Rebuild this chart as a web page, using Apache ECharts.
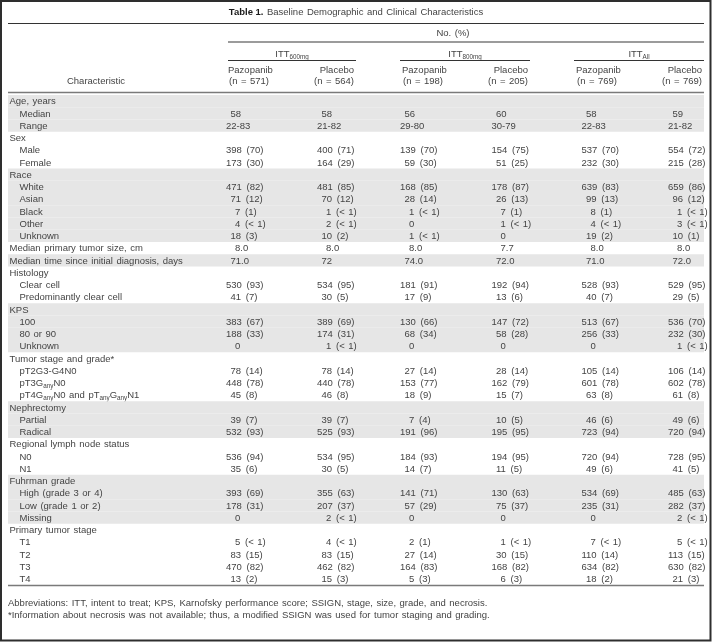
<!DOCTYPE html>
<html>
<head>
<meta charset="utf-8">
<script src="https://cdn.jsdelivr.net/npm/echarts/dist/echarts.min.js"></script>
<style>html,body{margin:0;padding:0;background:#fff}#chart{width:712px;height:642px}</style>
</head>
<body>
<div id="chart"></div>
<script>
// ---------------- data ----------------
const titleBold = 'Table 1.';
const titleText = 'Baseline Demographic and Clinical Characteristics';
const spanHeader = 'No. (%)';
const stubHeader = 'Characteristic';
const groupNames = ['ITT{s|600mg}', 'ITT{s|800mg}', 'ITT{s|All}'];
const armNames = ['Pazopanib', 'Placebo', 'Pazopanib', 'Placebo', 'Pazopanib', 'Placebo'];
const armN = ['(n = 571)', '(n = 564)', '(n = 198)', '(n = 205)', '(n = 769)', '(n = 769)'];
const columnKeys = ['Characteristic', 'gap', 'ITT600 Pazopanib', 'ITT600 Placebo', 'ITT800 Pazopanib', 'ITT800 Placebo', 'ITTAll Pazopanib', 'ITTAll Placebo'];

const characteristics = [
  'Age, years', 'Median', 'Range',
  'Sex', 'Male', 'Female',
  'Race', 'White', 'Asian', 'Black', 'Other', 'Unknown',
  'Median primary tumor size, cm',
  'Median time since initial diagnosis, days',
  'Histology', 'Clear cell', 'Predominantly clear cell',
  'KPS', '100', '80 or 90', 'Unknown',
  'Tumor stage and grade*', 'pT2G3-G4N0', 'pT3G{s|any}N0', 'pT4G{s|any}N0 and pT{s|any}G{s|any}N1',
  'Nephrectomy', 'Partial', 'Radical',
  'Regional lymph node status', 'N0', 'N1',
  'Fuhrman grade', 'High (grade 3 or 4)', 'Low (grade 1 or 2)', 'Missing',
  'Primary tumor stage', 'T1', 'T2', 'T3', 'T4'
];
const indentLevel = [
  0, 1, 1,
  0, 1, 1,
  0, 1, 1, 1, 1, 1,
  0,
  0,
  0, 1, 1,
  0, 1, 1, 1,
  0, 1, 1, 1,
  0, 1, 1,
  0, 1, 1,
  0, 1, 1, 1,
  0, 1, 1, 1, 1
];
const itt600Pazopanib = ['', '58', '22-83', '', '398 (70)', '173 (30)', '', '471 (82)', '71 (12)', '7 (1)', '4 (< 1)', '18 (3)', '8.0', '71.0', '', '530 (93)', '41 (7)', '', '383 (67)', '188 (33)', '0', '', '78 (14)', '448 (78)', '45 (8)', '', '39 (7)', '532 (93)', '', '536 (94)', '35 (6)', '', '393 (69)', '178 (31)', '0', '', '5 (< 1)', '83 (15)', '470 (82)', '13 (2)'];
const itt600Placebo   = ['', '58', '21-82', '', '400 (71)', '164 (29)', '', '481 (85)', '70 (12)', '1 (< 1)', '2 (< 1)', '10 (2)', '8.0', '72', '', '534 (95)', '30 (5)', '', '389 (69)', '174 (31)', '1 (< 1)', '', '78 (14)', '440 (78)', '46 (8)', '', '39 (7)', '525 (93)', '', '534 (95)', '30 (5)', '', '355 (63)', '207 (37)', '2 (< 1)', '', '4 (< 1)', '83 (15)', '462 (82)', '15 (3)'];
const itt800Pazopanib = ['', '56', '29-80', '', '139 (70)', '59 (30)', '', '168 (85)', '28 (14)', '1 (< 1)', '0', '1 (< 1)', '8.0', '74.0', '', '181 (91)', '17 (9)', '', '130 (66)', '68 (34)', '0', '', '27 (14)', '153 (77)', '18 (9)', '', '7 (4)', '191 (96)', '', '184 (93)', '14 (7)', '', '141 (71)', '57 (29)', '0', '', '2 (1)', '27 (14)', '164 (83)', '5 (3)'];
const itt800Placebo   = ['', '60', '30-79', '', '154 (75)', '51 (25)', '', '178 (87)', '26 (13)', '7 (1)', '1 (< 1)', '0', '7.7', '72.0', '', '192 (94)', '13 (6)', '', '147 (72)', '58 (28)', '0', '', '28 (14)', '162 (79)', '15 (7)', '', '10 (5)', '195 (95)', '', '194 (95)', '11 (5)', '', '130 (63)', '75 (37)', '0', '', '1 (< 1)', '30 (15)', '168 (82)', '6 (3)'];
const ittAllPazopanib = ['', '58', '22-83', '', '537 (70)', '232 (30)', '', '639 (83)', '99 (13)', '8 (1)', '4 (< 1)', '19 (2)', '8.0', '71.0', '', '528 (93)', '40 (7)', '', '513 (67)', '256 (33)', '0', '', '105 (14)', '601 (78)', '63 (8)', '', '46 (6)', '723 (94)', '', '720 (94)', '49 (6)', '', '534 (69)', '235 (31)', '0', '', '7 (< 1)', '110 (14)', '634 (82)', '18 (2)'];
const ittAllPlacebo   = ['', '59', '21-82', '', '554 (72)', '215 (28)', '', '659 (86)', '96 (12)', '1 (< 1)', '3 (< 1)', '10 (1)', '8.0', '72.0', '', '529 (95)', '29 (5)', '', '536 (70)', '232 (30)', '1 (< 1)', '', '106 (14)', '602 (78)', '61 (8)', '', '49 (6)', '720 (94)', '', '728 (95)', '41 (5)', '', '485 (63)', '282 (37)', '2 (< 1)', '', '5 (< 1)', '113 (15)', '630 (82)', '21 (3)'];
const footnotes = [
  'Abbreviations: ITT, intent to treat; KPS, Karnofsky performance score; SSIGN, stage, size, grade, and necrosis.',
  '*Information about necrosis was not available; thus, a modified SSIGN was used for tumor staging and grading.'
];

// ---------------- styling ----------------
const valueColumns = [itt600Pazopanib, itt600Placebo, itt800Pazopanib, itt800Placebo, ittAllPazopanib, ittAllPlacebo];
const FONT_FAMILY = '"Liberation Sans", Arial, Helvetica, sans-serif';
const FS = 9.5;
const TXT = '#444444';
const BAND = '#e6e6e6';
const RULE = '#333333';
const GRAY_RULE = '#7a7a7a';
const colOffset = [0.5, 4.5, 0.5, 5, 8, 7.5];   // start of column text relative to slot centre (px)
const digitPad = 4.5;
const LH = 12;
const richBase = {
  m:  { fontSize: FS, fontFamily: FONT_FAMILY, fill: TXT, lineHeight: LH },
  b:  { fontSize: FS, fontFamily: FONT_FAMILY, fontWeight: 'bold', fill: '#1a1a1a', lineHeight: LH },
  s:  { fontSize: 6.3, fontFamily: FONT_FAMILY, fill: TXT, verticalAlign: 'bottom', lineHeight: LH },
  sp: { fontSize: 12.6, fontFamily: FONT_FAMILY, fill: TXT, lineHeight: LH },   // the source face has wider word spaces
  gp: { fontSize: 17, fontFamily: FONT_FAMILY, fill: TXT, lineHeight: LH }      // count / percentage gap
};

// group shading: every group (started by an indent-0 row) alternates shaded / white
const shaded = [];
let g = -1;
characteristics.forEach((_, i) => { if (indentLevel[i] === 0) g++; shaded.push(g % 2 === 0); });

function toRich(t, firstGap) {
  const parts = t.split(/(\{[a-z]+\|[^}]*\})/);
  let first = true;
  return parts.map(p => {
    if (!p) return '';
    if (p[0] === '{') return p;
    return p.split(' ').map(w => w ? '{m|' + w + '}' : '').reduce((acc, w, i) => {
      if (i === 0) return w;
      const gap = (firstGap && first) ? '{gp| }' : '{sp| }';
      first = false;
      return acc + gap + w;
    }, '');
  }).join('');
}
function padFor(t) {
  if (!t || t.indexOf('-') >= 0) return 0;
  const m = t.match(/^(\d+)/);
  if (!m) return 0;
  return Math.max(0, 3 - m[1].length) * digitPad;
}

const chart = echarts.init(document.getElementById('chart'), null, { renderer: 'canvas' });
const rowKeys = characteristics.map((_, i) => 'r' + i);

const option = {
  animation: false,
  backgroundColor: '#ffffff',
  grid: { left: 8, right: 8, top: 95, height: 490 },
  xAxis: { type: 'category', data: columnKeys, show: false },
  yAxis: { type: 'category', data: rowKeys, inverse: true, show: false },
  series: [{
    type: 'custom',
    coordinateSystem: 'cartesian2d',
    data: characteristics.map((_, i) => [columnKeys[0], rowKeys[i]]),
    renderItem: function (params, api) {
      const row = params.dataIndex;
      const cs = params.coordSys;
      const yc = api.coord([columnKeys[0], rowKeys[row]])[1];
      const rh = api.size([1, 1])[1];
      const children = [];
      if (shaded[row]) {
        children.push({ type: 'rect', shape: { x: cs.x, y: yc - rh / 2, width: cs.width, height: rh }, style: { fill: BAND } });
      }
      children.push({
        type: 'text',
        style: {
          text: toRich(characteristics[row]),
          x: cs.x + (indentLevel[row] ? 11.5 : 1.5), y: yc + 0.5,
          align: 'left', verticalAlign: 'middle', rich: richBase
        }
      });
      valueColumns.forEach((col, c) => {
        const t = col[row];
        if (!t) return;
        const xc = api.coord([columnKeys[c + 2], rowKeys[row]])[0];
        children.push({
          type: 'text',
          style: {
            text: toRich(t, true), x: xc + colOffset[c] + padFor(t), y: yc + 0.5,
            align: 'left', verticalAlign: 'middle', rich: richBase
          }
        });
      });
      return { type: 'group', children: children };
    }
  }]
};
chart.setOption(option);

// ---------------- header / frame from axis positions ----------------
const slotX = i => chart.convertToPixel({ xAxisIndex: 0 }, columnKeys[i]);
const bandW = slotX(3) - slotX(2);
const gridL = slotX(0) - bandW / 2;
const gridR = slotX(7) + bandW / 2;
const W = 712, H = 642;
const txt = (text, x, y, align) => ({
  type: 'text', style: { text: text, x: x, y: y, align: align || 'left', verticalAlign: 'middle', rich: richBase }
});
const hline = (x1, x2, y, color, w) => ({ type: 'line', shape: { x1: x1, y1: y, x2: x2, y2: y }, style: { stroke: color, lineWidth: w } });

const els = [];
els.push({ type: 'rect', shape: { x: 1, y: 1, width: W - 2.5, height: H - 2.5 }, style: { fill: null, stroke: '#2e2e2e', lineWidth: 2 }, z: 10 });
els.push(txt('{b|' + titleBold + '}{sp| }' + toRich(titleText), W / 2, 12.5, 'center'));
els.push(hline(gridL, gridR, 23.5, RULE, 1));
const spanL = slotX(2) + 2.5;
els.push(txt(toRich(spanHeader), 453, 33, 'center'));
els.push(hline(spanL, gridR, 42, GRAY_RULE, 1.6));
for (let k = 0; k < 3; k++) {
  const l = slotX(2 + 2 * k) + (k === 0 ? 2.5 : 0.5);
  const r = slotX(3 + 2 * k) + bandW / 2;
  els.push(txt(toRich(groupNames[k]), (l + r) / 2, 54, 'center'));
  els.push(hline(l, r, 60.5, RULE, 1));
  const pl = slotX(2 + 2 * k) + 2.5;
  els.push(txt(toRich(armNames[2 * k]), pl, 70.5, 'left'));
  els.push(txt(toRich(armN[2 * k]), pl + 1, 81, 'left'));
  const pr = slotX(3 + 2 * k) + bandW / 2 - 2;
  els.push(txt(toRich(armNames[2 * k + 1]), pr, 70.5, 'right'));
  els.push(txt(toRich(armN[2 * k + 1]), pr, 81, 'right'));
}
els.push(txt(toRich(stubHeader), 96, 81, 'center'));
els.push(hline(gridL, gridR, 92.5, GRAY_RULE, 1.6));
els.push(hline(gridL, gridR, 585.5, GRAY_RULE, 1.6));
els.push(txt(toRich(footnotes[0]), gridL, 603.5, 'left'));
els.push(txt(toRich(footnotes[1]), gridL, 615.5, 'left'));

chart.setOption({ graphic: { elements: els } });
</script>
</body>
</html>
